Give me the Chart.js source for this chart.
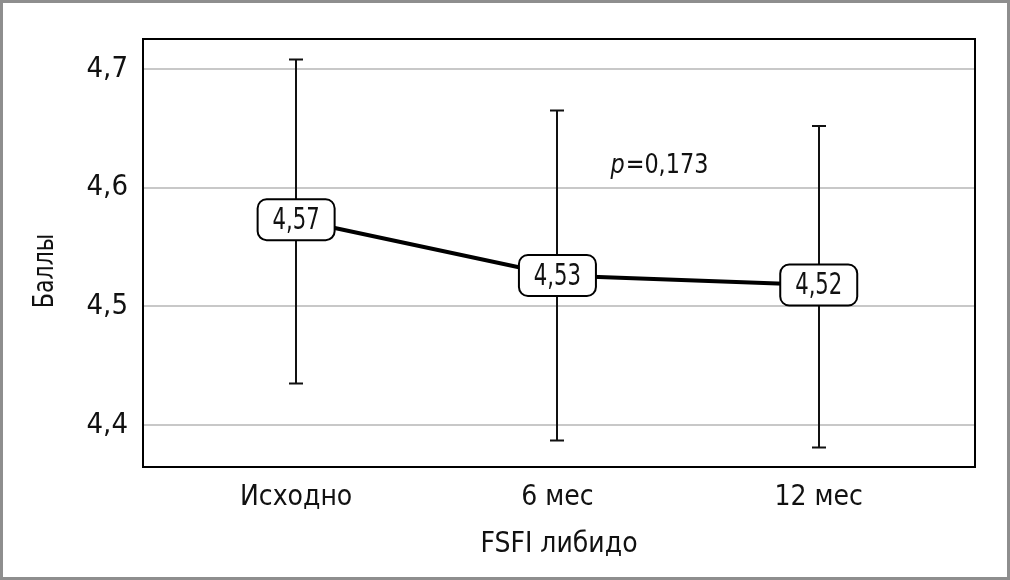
<!DOCTYPE html>
<html>
<head>
<meta charset="utf-8">
<script src="https://cdn.jsdelivr.net/npm/chart.js@4.4.1/dist/chart.umd.min.js"></script>
<style>
  html, body { margin: 0; padding: 0; background: #fff; }
  #frame { width: 1010px; height: 580px; box-sizing: border-box; border: 3px solid #8e8e8e; background: #fff; }
  #chart { display: block; }
</style>
</head>
<body>
<div id="frame"><canvas id="chart" width="1004" height="574"></canvas></div>
<script>
// data
const categories = ['Исходно', '6 мес', '12 мес'];
const means = [4.573, 4.526, 4.518];
const meanLabels = ['4,57', '4,53', '4,52'];
const upper = [4.708, 4.665, 4.652];
const lower = [4.435, 4.387, 4.381];
const yTicks = [4.4, 4.5, 4.6, 4.7];
const pValue = '=0,173';

const FONT = '"Liberation Sans Narrow", "Arial Narrow", "DejaVu Sans Condensed", sans-serif';
Chart.defaults.font.family = FONT;
Chart.defaults.color = '#111';

// draw text squeezed horizontally, the source uses a narrow face
function narrowText(ctx, text, x, y, sx) {
    ctx.save();
    ctx.translate(x, y);
    ctx.scale(sx, 1);
    ctx.fillText(text, 0, 0);
    ctx.restore();
}

// error bars, plot frame, value boxes, p label and y title
const overlay = {
    id: 'overlay',
    beforeDatasetsDraw(chart) {
        const { ctx, chartArea: a, scales: { x, y } } = chart;
        ctx.save();
        ctx.strokeStyle = '#111';
        ctx.lineWidth = 2;
        lower.forEach((lo, i) => {
            const px = Math.round(x.getPixelForValue(i));
            const top = y.getPixelForValue(upper[i]);
            const bot = y.getPixelForValue(lo);
            ctx.beginPath();
            ctx.moveTo(px, top); ctx.lineTo(px, bot);
            ctx.moveTo(px - 7, top); ctx.lineTo(px + 7, top);
            ctx.moveTo(px - 7, bot); ctx.lineTo(px + 7, bot);
            ctx.stroke();
        });
        ctx.strokeStyle = '#000';
        ctx.lineWidth = 2;
        ctx.strokeRect(a.left, a.top, a.width, a.height);
        ctx.restore();
    },
    afterDatasetsDraw(chart) {
        const { ctx, scales: { x, y } } = chart;
        ctx.save();
        ctx.textAlign = 'center';
        ctx.textBaseline = 'middle';
        means.forEach((m, i) => {
            const px = x.getPixelForValue(i);
            const py = y.getPixelForValue(m);
            const w = 77, h = 41;
            ctx.beginPath();
            ctx.roundRect(px - w / 2, py - h / 2, w, h, 9);
            ctx.fillStyle = '#fff';
            ctx.fill();
            ctx.lineWidth = 2;
            ctx.strokeStyle = '#000';
            ctx.stroke();
            ctx.fillStyle = '#111';
            ctx.font = '31px ' + FONT;
            narrowText(ctx, meanLabels[i], px, py + 1, 0.76);
        });

        // p-value
        const tx = x.getPixelForValue(1.203);
        const ty = y.getPixelForValue(4.618);
        ctx.textAlign = 'left';
        ctx.font = 'italic 27px ' + FONT;
        narrowText(ctx, 'p', tx, ty, 0.92);
        const pw = ctx.measureText('p').width * 0.92;
        ctx.font = '27px ' + FONT;
        narrowText(ctx, pValue, tx + pw + 1, ty, 0.92);
        ctx.restore();
    },
    afterDraw(chart) {
        const { ctx } = chart;
        ctx.save();
        ctx.translate(43, 268);
        ctx.rotate(-Math.PI / 2);
        ctx.font = '28px ' + FONT;
        ctx.fillStyle = '#111';
        ctx.textAlign = 'center';
        ctx.textBaseline = 'middle';
        narrowText(ctx, 'Баллы', 0, 0, 0.88);
        ctx.restore();
    }
};

new Chart(document.getElementById('chart'), {
    type: 'line',
    data: {
        datasets: [{
            data: means.map((m, i) => ({ x: i, y: m })),
            borderColor: '#000',
            borderWidth: 4,
            pointRadius: 0,
            tension: 0
        }]
    },
    options: {
        responsive: false,
        animation: false,
        devicePixelRatio: 1,
        layout: { padding: { top: 36, right: 32, left: 0, bottom: 0 } },
        plugins: { legend: { display: false }, tooltip: { enabled: false } },
        scales: {
            x: {
                type: 'linear',
                min: -0.586,
                max: 2.598,
                grid: { display: false },
                border: { display: false },
                afterBuildTicks: s => { s.ticks = categories.map((c, i) => ({ value: i })); },
                afterFit: s => { s.height = 110; },
                ticks: {
                    padding: 6,
                    maxRotation: 0,
                    autoSkip: false,
                    font: { size: 28 },
                    callback: v => categories[v]
                },
                title: {
                    display: true,
                    text: 'FSFI либидо',
                    font: { size: 28 },
                    padding: { top: 0, bottom: 15 }
                }
            },
            y: {
                min: 4.3646,
                max: 4.7253,
                afterBuildTicks: s => { s.ticks = yTicks.map(v => ({ value: v })); },
                afterFit: s => { s.width = 140; },
                grid: { color: '#c8c8c8', lineWidth: 2, drawTicks: false },
                border: { display: false },
                ticks: {
                    padding: 15,
                    font: { size: 29 },
                    callback: v => v.toFixed(1).replace('.', ',')
                }
            }
        }
    },
    plugins: [overlay]
});
</script>
</body>
</html>
